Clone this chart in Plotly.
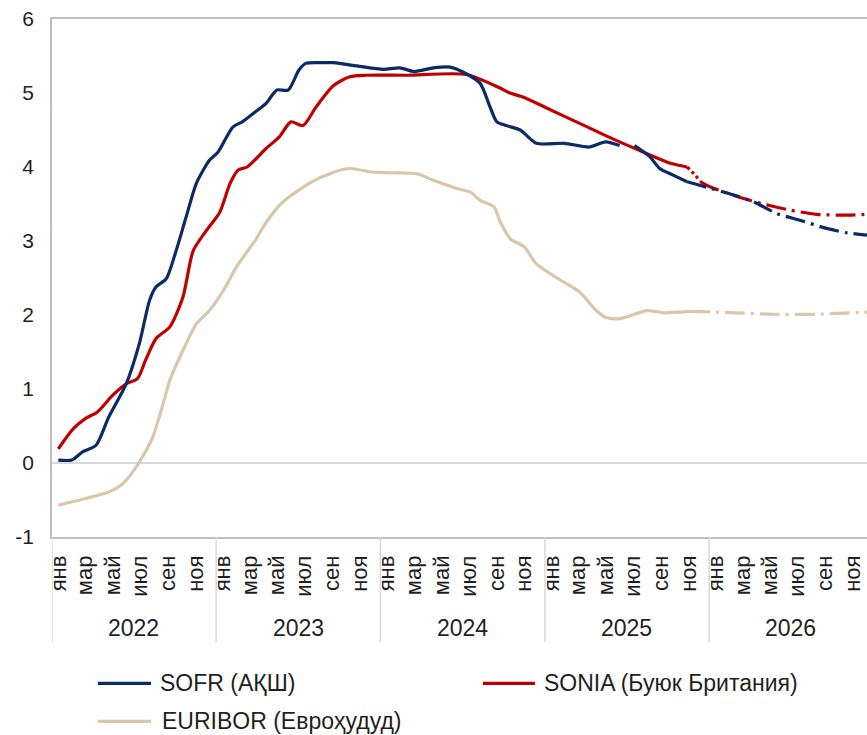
import plotly.graph_objects as go

# ---------------- data ----------------
month_labels = ["янв", "мар", "май", "июл", "сен", "ноя"]
tick_months = [1, 3, 5, 7, 9, 11]
years = [2022, 2023, 2024, 2025, 2026]
y_ticks = [-1, 0, 1, 2, 3, 4, 5, 6]
y_tick_labels = ["-1", "0", "1", "2", "3", "4", "5", "6"]

sofr_dates = ["2022-01-15", "2022-02-14", "2022-03-10", "2022-04-09", "2022-05-07", "2022-06-15",
              "2022-07-14", "2022-08-06", "2022-08-20", "2022-09-12", "2022-10-04", "2022-10-26",
              "2022-11-18", "2022-12-17", "2023-01-05", "2023-02-07", "2023-02-28", "2023-03-28",
              "2023-04-22", "2023-05-16", "2023-06-10", "2023-07-04", "2023-07-19", "2023-08-20",
              "2023-09-19", "2023-11-16", "2024-01-07", "2024-02-13", "2024-03-16", "2024-04-28",
              "2024-06-04", "2024-07-10", "2024-08-10", "2024-09-01", "2024-09-16", "2024-10-07",
              "2024-11-07", "2024-12-13", "2025-02-13", "2025-04-10", "2025-05-16", "2025-06-16",
              "2025-07-01", "2025-07-19", "2025-08-22", "2025-09-13", "2025-10-13", "2025-11-13"]
sofr_vals = [0.04, 0.04, 0.15, 0.24, 0.62, 1.07,
             1.61, 2.20, 2.38, 2.49, 2.87, 3.32,
             3.78, 4.09, 4.20, 4.54, 4.61, 4.74,
             4.86, 5.04, 5.04, 5.31, 5.40, 5.41,
             5.41, 5.36, 5.32, 5.34, 5.29, 5.34,
             5.35, 5.26, 5.13, 4.81, 4.61, 4.56,
             4.50, 4.32, 4.32, 4.27, 4.34, 4.29,
             None, 4.29, 4.14, 3.98, 3.89, 3.80]
sofr_fc_dates = ["2025-11-13", "2025-12-13", "2026-02-25", "2026-04-10", "2026-06-01",
                 "2026-07-22", "2026-09-19", "2026-11-04", "2026-12-19"]
sofr_fc_vals = [3.80, 3.75, 3.62, 3.53, 3.37, 3.28, 3.17, 3.11, 3.08]

sonia_dates = ["2022-01-15", "2022-02-17", "2022-03-16", "2022-04-12", "2022-05-15", "2022-06-15",
               "2022-07-10", "2022-07-28", "2022-08-20", "2022-09-20", "2022-10-19", "2022-11-11",
               "2022-12-10", "2023-01-09", "2023-02-01", "2023-02-19", "2023-03-11", "2023-04-22",
               "2023-05-22", "2023-06-16", "2023-07-13", "2023-08-11", "2023-09-19", "2023-10-25",
               "2023-12-01", "2024-03-01", "2024-07-10", "2024-09-22", "2024-10-15", "2024-11-16",
               "2025-01-07", "2025-03-19", "2025-06-01", "2025-08-16", "2025-10-07", "2025-10-28",
               "2025-11-13"]
sonia_vals = [0.19, 0.46, 0.60, 0.69, 0.91, 1.07,
              1.14, 1.39, 1.68, 1.84, 2.24, 2.87,
              3.14, 3.39, 3.78, 3.96, 4.00, 4.25,
              4.41, 4.61, 4.56, 4.81, 5.10, 5.22,
              5.24, 5.24, 5.25, 5.07, 5.00, 4.94,
              4.79, 4.59, 4.38, 4.18, 4.05, 4.02,
              4.00]
sonia_link_dates = ["2025-11-13", "2025-11-28", "2025-12-13"]
sonia_link_vals = [4.00, 3.91, 3.80]
sonia_fc_dates = ["2025-12-13", "2026-01-04", "2026-04-01", "2026-06-28", "2026-08-28",
                  "2026-11-04", "2026-12-19"]
sonia_fc_vals = [3.80, 3.73, 3.55, 3.42, 3.36, 3.35, 3.36]

euribor_dates = ["2022-01-15", "2022-03-16", "2022-05-08", "2022-06-07", "2022-07-14", "2022-08-13",
                 "2022-09-05", "2022-09-20", "2022-10-19", "2022-11-18", "2022-12-17", "2023-01-22",
                 "2023-02-15", "2023-03-30", "2023-04-22", "2023-05-28", "2023-07-27", "2023-09-19",
                 "2023-10-25", "2023-12-16", "2024-02-13", "2024-03-22", "2024-04-28", "2024-06-19",
                 "2024-07-19", "2024-08-10", "2024-09-10", "2024-09-22", "2024-10-16", "2024-11-16",
                 "2024-12-13", "2025-01-25", "2025-03-19", "2025-04-25", "2025-05-16", "2025-06-16",
                 "2025-08-16", "2025-09-22", "2025-10-28", "2025-11-19"]
euribor_vals = [-0.57, -0.48, -0.39, -0.28, 0.01, 0.35,
                0.80, 1.12, 1.52, 1.88, 2.06, 2.38,
                2.65, 3.02, 3.25, 3.52, 3.78, 3.93,
                3.98, 3.93, 3.92, 3.91, 3.82, 3.71,
                3.66, 3.55, 3.46, 3.28, 3.03, 2.92,
                2.69, 2.51, 2.31, 2.06, 1.97, 1.95,
                2.06, 2.03, 2.04, 2.05]
euribor_fc_dates = ["2025-11-19", "2026-02-25", "2026-05-22", "2026-08-28", "2026-11-10", "2026-12-19"]
euribor_fc_vals = [2.05, 2.03, 2.01, 2.01, 2.03, 2.04]

series_names = ["SOFR (АҚШ)", "SONIA (Буюк Британия)", "EURIBOR (Евроҳудуд)"]

# ---------------- style ----------------
NAVY = "#0B2A66"
RED = "#C00000"
BEIGE = "#D9C7AB"
TXT = "#1F1F1F"
AXIS = "#BFBFBF"
LIGHT = "#D9D9D9"
LW = 3.2
DASHDOT = "20px,6px,3px,6px"
BASE = "Liberation Sans, Arial, sans-serif"

fig = go.Figure()

def add(x, y, color, dash="solid", name=None):
    fig.add_trace(go.Scatter(
        x=x, y=y, mode="lines", name=name, showlegend=False,
        line=dict(color=color, width=LW, dash=dash, shape="spline", smoothing=0.7),
        connectgaps=False, hoverinfo="skip"))

add(euribor_dates, euribor_vals, BEIGE, name=series_names[2])
add(euribor_fc_dates, euribor_fc_vals, BEIGE, dash=DASHDOT, name=series_names[2])
add(sonia_dates, sonia_vals, RED, name=series_names[1])
add(sonia_link_dates, sonia_link_vals, RED, dash="dot", name=series_names[1])
add(sonia_fc_dates, sonia_fc_vals, RED, dash=DASHDOT, name=series_names[1])
add(sofr_dates, sofr_vals, NAVY, name=series_names[0])
add(sofr_fc_dates, sofr_fc_vals, NAVY, dash=DASHDOT, name=series_names[0])

# month tick labels
tickvals, ticktext = [], []
for yr in years:
    for m, lab in zip(tick_months, month_labels):
        tickvals.append(f"{yr}-{m:02d}-16")
        ticktext.append(lab)

shapes = []
for yr in years:
    shapes.append(dict(type="line", xref="x", yref="paper", x0=f"{yr}-01-01", x1=f"{yr}-01-01",
                       y0=0, y1=-0.203, line=dict(color=LIGHT, width=1.5)))
annotations = []
for yr in years:
    annotations.append(dict(x=f"{yr}-07-02", y=-0.176, xref="x", yref="paper", text=str(yr),
                            showarrow=False, xanchor="center", yanchor="middle",
                            font=dict(family=BASE, size=23, color=TXT)))

# legend (line sample + label), placed below the plot
legend_items = [
    (series_names[0], NAVY, 0.0564, 0.1215, 0.130, -0.2824),
    (series_names[1], RED, 0.5288, 0.5926, 0.6015, -0.2824),
    (series_names[2], BEIGE, 0.0564, 0.1215, 0.1325, -0.3558),
]
for name, color, lx0, lx1, tx, ly in legend_items:
    shapes.append(dict(type="line", xref="paper", yref="paper", x0=lx0, x1=lx1, y0=ly, y1=ly,
                       line=dict(color=color, width=3.2)))
    annotations.append(dict(x=tx, y=ly, xref="paper", yref="paper", text=name, showarrow=False,
                            xanchor="left", yanchor="middle",
                            font=dict(family=BASE, size=23, color=TXT)))

fig.update_layout(
    width=867, height=735, autosize=False,
    margin=dict(l=52, r=0, t=19, b=198, autoexpand=False),
    plot_bgcolor="white", paper_bgcolor="white",
    font=dict(family=BASE, color=TXT),
    showlegend=False,
    xaxis=dict(type="date", range=["2022-01-01", "2026-12-18"], tickmode="array",
               tickvals=tickvals, ticktext=ticktext, tickangle=-90, ticks="",
               tickfont=dict(size=22, color=TXT), ticklabelstandoff=8, automargin=False,
               showgrid=False, showline=True, linecolor=AXIS, linewidth=1.5, mirror=True,
               zeroline=False),
    yaxis=dict(range=[-1, 6], tickmode="array", tickvals=y_ticks, ticktext=y_tick_labels,
               ticks="", showgrid=False, automargin=False,
               showline=True, linecolor=AXIS, linewidth=1.5,
               zeroline=True, zerolinecolor=LIGHT, zerolinewidth=1.5,
               tickfont=dict(size=21, color=TXT), ticklabelstandoff=12),
    shapes=shapes, annotations=annotations,
)

fig.write_html("out.html", config={"displayModeBar": False},
               post_script="document.body.style.margin='0';document.body.style.overflow='hidden';")
